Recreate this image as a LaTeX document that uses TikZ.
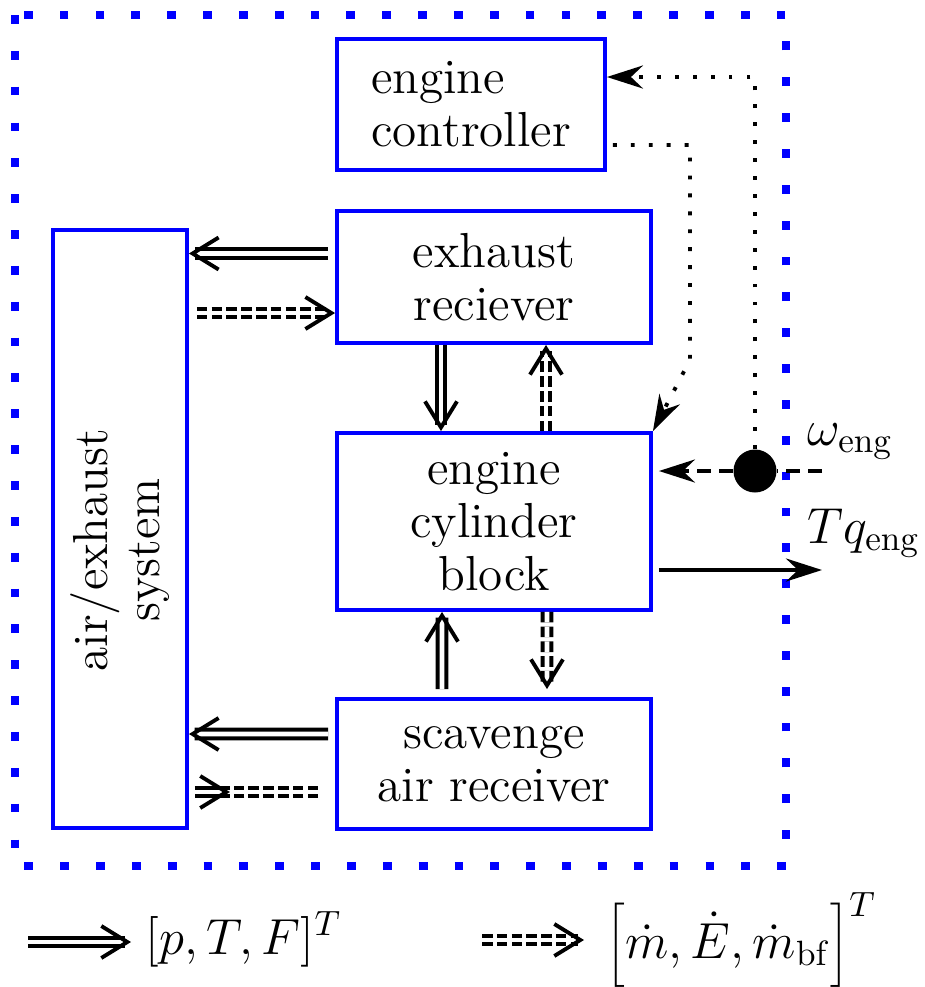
\documentclass[tikz,border=0pt]{standalone}
\usetikzlibrary{arrows.meta}
\begin{document}
\begin{tikzpicture}[font=\fontsize{14}{15}\selectfont] % схема двигателя
\tikzstyle{block} = [draw=blue, line width=1.1pt, inner sep=0pt, align=center] % block style
\tikzstyle{dblarrow} = [double, line width=1.1pt, double distance=1.4pt, -{Straight Barb[length=2.6mm,width=3.2mm]}] % [p,T,F] connection
\tikzstyle{dbldash} = [dblarrow, dash pattern=on 3pt off 1.2pt] % [m,E,mbf] connection
\tikzstyle{sigarrow} = [line width=1.1pt, -{Stealth[length=3.6mm,width=2.3mm,inset=1.2mm]}] % signal
\tikzstyle{dotarrow} = [sigarrow, dash pattern=on 1.1pt off 4pt] % control signal
\useasboundingbox (0,0) rectangle (9.25,-9.87);
% граница подсистемы
\draw[blue, line width=2.5pt, dash pattern=on 2.5pt off 7.7pt] (0.15,-0.15) rectangle (7.86,-8.66);
%
\node[block, minimum width=2.68cm, minimum height=1.31cm, align=left] (ctrl) at (4.71,-1.045) {engine\\controller};
\node[block, minimum width=3.14cm, minimum height=1.32cm] (exh) at (4.94,-2.77) {exhaust\\reciever};
\node[block, minimum width=3.14cm, minimum height=1.77cm] (cyl) at (4.94,-5.215) {engine\\cylinder\\block};
\node[block, minimum width=3.14cm, minimum height=1.30cm] (scav) at (4.94,-7.64) {scavenge\\air receiver};
\node[block, minimum width=1.34cm, minimum height=5.98cm,
  label={[yshift=-2.1mm, rotate=90, align=center]center:air/exhaust\\system}] (air) at (1.20,-5.29) {}; % text turned by label
%
\draw[dblarrow] ([shift={(-0.07,0.235)}]exh.west) -- ([yshift=2.35mm]exh.west -| air.east);
\draw[dbldash] ([shift={(0.08,-0.36)}]exh.west -| air.east) -- ([yshift=-3.6mm]exh.west);
\draw[dblarrow] ([shift={(-0.07,0.30)}]scav.west) -- ([yshift=3mm]scav.west -| air.east);
\draw[dbldash, -] ([shift={(-0.17,-0.28)}]scav.west) -- ([shift={(0.06,-0.28)}]scav.west -| air.east);
\draw[dbldash] ([shift={(0.06,-0.28)}]scav.west -| air.east) -- ([shift={(0.41,-0.28)}]scav.west -| air.east);
%
\draw[dblarrow] ([xshift=-5.3mm]exh.south) -- ([xshift=-5.3mm]cyl.north);
\draw[dbldash] ([xshift=5.2mm]cyl.north) -- ([xshift=5.2mm]exh.south);
\draw[dblarrow] ([shift={(-0.52,0.08)}]scav.north) -- ([xshift=-5.2mm]cyl.south);
\draw[dbldash] ([xshift=5.3mm]cyl.south) -- ([shift={(0.53,0.08)}]scav.north);
%
\node[circle, fill, inner sep=0pt, minimum size=4.3mm] (spd) at (7.55,-4.71) {};
\coordinate (win) at (8.22,-4.71);
\coordinate (tq) at (8.22,-5.70);
\draw[sigarrow, dash pattern=on 4pt off 2.3pt] (win) -- (spd) -- ([xshift=0.6mm]spd -| cyl.east);
\draw[dotarrow] (spd) |- ([yshift=2.75mm]ctrl.east);
\draw[dotarrow] ([shift={(0.06,-0.405)}]ctrl.east) -- ++(0.77,0) -- ++(0,-2.15) -- (cyl.north east);
\draw[sigarrow] ([xshift=0.6mm]tq -| cyl.east) -- (tq);
\node[anchor=base west] (wlab) at (7.95,-4.45) {$\omega_{\mathrm{eng}}$};
\node[anchor=base west] (tqlab) at (7.95,-5.43) {$Tq_{\mathrm{eng}}$};
% легенда
\coordinate (l1a) at (0.28,-9.42);
\coordinate (l1b) at (1.31,-9.42);
\coordinate (l2a) at (4.82,-9.40);
\coordinate (l2b) at (5.84,-9.40);
\draw[dblarrow] (l1a) -- (l1b);
\draw[dbldash] (l2a) -- (l2b);
\node[anchor=base west, inner sep=0pt, font=\fontsize{14.7}{16}\selectfont] (l1t) at (1.45,-9.54) {$[p,T,F]^T$};
\node[anchor=base west, inner sep=0pt] (l2t) at (6.06,-9.58) {$\bigg[\dot m,\dot E,\dot m_{\mathrm{bf}}\bigg]^T$};
\end{tikzpicture}
\end{document}
